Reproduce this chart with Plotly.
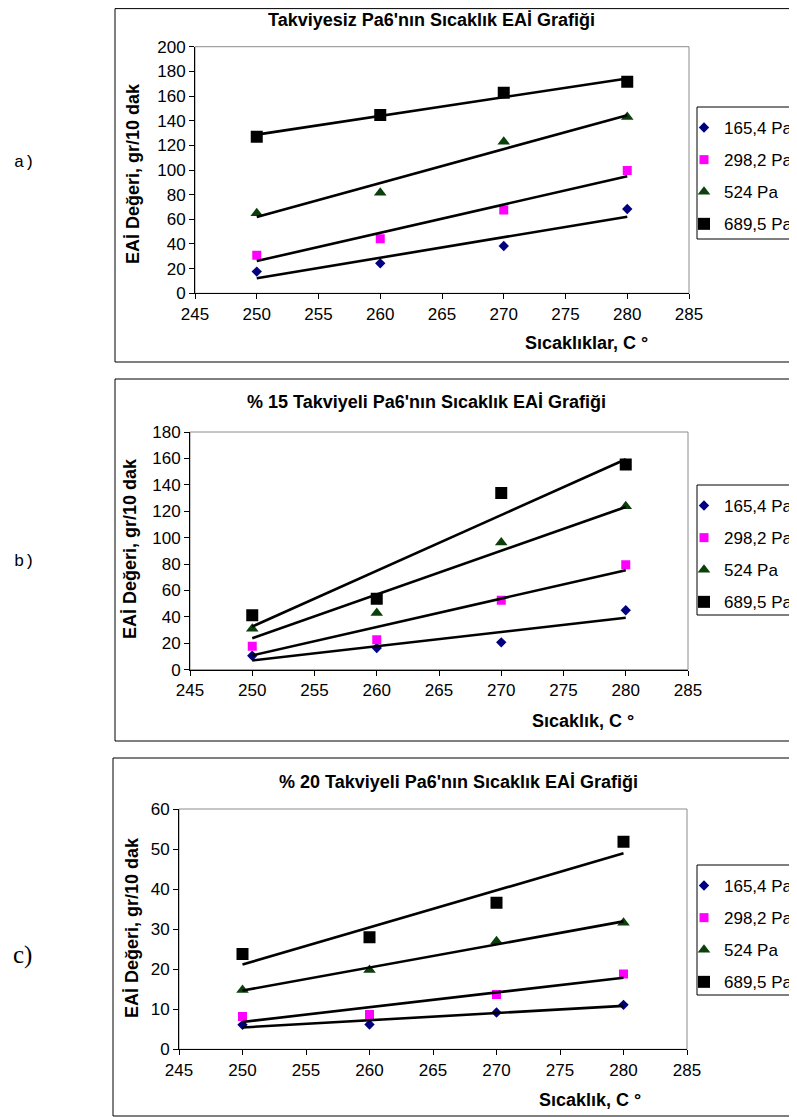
import numpy as np
import plotly.graph_objects as go

# The page body has an 8px default margin, so the figure is sized to fill the
# remaining part of the 797x1117 window and positions are given in window pixels.
WIN_W, WIN_H = 797, 1117
OFF = 8
W, H = WIN_W - OFF, WIN_H - OFF

# ---------------- data ----------------
temps = [250, 260, 270, 280]
series_names = ["165,4 Pa", "298,2 Pa", "524 Pa", "689,5 Pa"]

a_165 = [17.6, 24.3, 38.4, 68.4]
a_298 = [30.8, 44.3, 67.6, 99.5]
a_524 = [65.0, 81.6, 123.0, 143.0]
a_689 = [127.0, 144.6, 162.7, 171.6]

b_165 = [10.6, 16.4, 20.7, 45.0]
b_298 = [17.7, 22.7, 52.5, 79.5]
b_524 = [31.0, 43.0, 96.4, 123.7]
b_689 = [41.2, 53.8, 133.8, 155.3]

c_165 = [6.1, 6.2, 9.2, 11.1]
c_298 = [8.2, 8.7, 13.7, 18.8]
c_524 = [14.8, 19.8, 27.0, 31.6]
c_689 = [23.8, 28.0, 36.6, 51.8]

titles = ["Takviyesiz Pa6'nın Sıcaklık EAİ Grafiği",
          "% 15 Takviyeli Pa6'nın Sıcaklık EAİ Grafiği",
          "% 20 Takviyeli Pa6'nın Sıcaklık EAİ Grafiği"]
x_titles = ["Sıcaklıklar, C °", "Sıcaklık, C °", "Sıcaklık, C °"]
y_title = "EAİ Değeri, gr/10 dak"
panel_labels = ["a)", "b)", "c)"]
y_ranges = [[0, 200], [0, 180], [0, 60]]
y_dticks = [20, 20, 10]
x_range = [245, 285]

panels = [[a_165, a_298, a_524, a_689],
          [b_165, b_298, b_524, b_689],
          [c_165, c_298, c_524, c_689]]

# ---------------- styles ----------------
FONT = "Liberation Sans, Arial, sans-serif"
marker_styles = [
    dict(symbol="diamond", color="#000080", size=8),
    dict(symbol="square", color="#FF00FF", size=9),
    dict(symbol="triangle-up", color="#0B400B", size=11),
    dict(symbol="square", color="#000000", size=12),
]

# window-pixel geometry (left, right, top(ymax), bottom(y=0))
plot_px = [(195, 689, 46.7, 293.3),
           (190, 688, 432.0, 669.7),
           (179, 687, 809.0, 1049.3)]
box_px = [(115, 8.6, 830, 362), (115, 379, 830, 741), (113, 758, 830, 1116)]
legend_box_px = [(697, 107, 830, 239), (697, 485, 830, 615), (697, 865, 830, 995)]
title_px = [(431, 20), (427, 402), (458, 782)]
xtitle_px = [(586, 343), (583, 721), (590, 1100)]
ytitle_px = [(133, 174), (130, 549), (132, 928)]
label_px = [(24, 163, "Liberation Mono, Courier New, monospace", 17),
            (24, 561, "Liberation Mono, Courier New, monospace", 17),
            (22, 955, "Liberation Serif, Times New Roman, serif", 25)]


def px(x):
    return (x - OFF) / W


def py(y):
    return 1 - (y - OFF) / H


fig = go.Figure()
layout = dict(width=W, height=H, margin=dict(l=0, r=0, t=0, b=0, autoexpand=False),
              paper_bgcolor="white", plot_bgcolor="white",
              font=dict(family=FONT, color="black"))
shapes = []
annotations = []

for i, data in enumerate(panels):
    k = "" if i == 0 else str(i + 1)
    xa, ya = "x" + k, "y" + k
    leg = "legend" + k
    L, R, T, B = plot_px[i]
    layout["xaxis" + k] = dict(domain=[px(L), px(R)], anchor=ya, range=x_range, dtick=5,
                              tick0=245, showline=True, linecolor="black", linewidth=1,
                              ticks="outside", ticklen=5, tickcolor="black",
                              showgrid=False, zeroline=False,
                              tickfont=dict(size=17, family=FONT, color="black"))
    layout["yaxis" + k] = dict(domain=[py(B), py(T)], anchor=xa, range=y_ranges[i],
                              dtick=y_dticks[i], showline=True, linecolor="black", linewidth=1,
                              ticks="outside", ticklen=5, tickcolor="black",
                              showgrid=False, zeroline=False,
                              tickfont=dict(size=17, family=FONT, color="black"))
    # panel outer box
    bx0, by0, bx1, by1 = box_px[i]
    shapes.append(dict(type="rect", xref="paper", yref="paper", x0=px(bx0), x1=px(bx1),
                       y0=py(by1), y1=py(by0), line=dict(color="black", width=1),
                       fillcolor="rgba(0,0,0,0)", layer="below"))
    # gray plot area frame
    shapes.append(dict(type="rect", xref=xa + " domain", yref=ya + " domain", x0=0, x1=1,
                       y0=0, y1=1, line=dict(color="#8C8C8C", width=1), layer="below"))
    # legend box
    lx0, ly0, lx1, ly1 = legend_box_px[i]
    shapes.append(dict(type="rect", xref="paper", yref="paper", x0=px(lx0), x1=px(lx1),
                       y0=py(ly1), y1=py(ly0), line=dict(color="black", width=1),
                       fillcolor="white", layer="below"))
    layout[leg] = dict(x=px(lx0 - 13), xanchor="left", y=py(ly0 + 3), yanchor="top",
                       bgcolor="rgba(0,0,0,0)", borderwidth=0, tracegroupgap=7,
                       font=dict(size=17, family=FONT, color="black"))

    for j, vals in enumerate(data):
        ms = marker_styles[j]
        fig.add_trace(go.Scatter(x=temps, y=vals, mode="markers", name=series_names[j],
                                 marker=dict(symbol=ms["symbol"], color=ms["color"], size=ms["size"],
                                             line=dict(width=0)),
                                 xaxis=xa, yaxis=ya, legend=leg, legendgroup=f"{i}_{j}"))
    for j, vals in enumerate(data):
        m, c = np.polyfit(temps, vals, 1)
        xt = [temps[0], temps[-1]]
        yt = [m * xt[0] + c, m * xt[1] + c]
        fig.add_trace(go.Scatter(x=xt, y=yt, mode="lines", line=dict(color="black", width=2.6),
                                 showlegend=False, hoverinfo="skip", xaxis=xa, yaxis=ya))

    tx, ty = title_px[i]
    annotations.append(dict(text=titles[i], x=px(tx), y=py(ty), xref="paper", yref="paper",
                            showarrow=False, xanchor="center", yanchor="middle",
                            font=dict(size=18, family=FONT, color="black", weight="bold")))
    tx, ty = xtitle_px[i]
    annotations.append(dict(text=x_titles[i], x=px(tx), y=py(ty), xref="paper", yref="paper",
                            showarrow=False, xanchor="center", yanchor="middle",
                            font=dict(size=18, family=FONT, color="black", weight="bold")))
    tx, ty = ytitle_px[i]
    annotations.append(dict(text=y_title, x=px(tx), y=py(ty), xref="paper", yref="paper",
                            showarrow=False, xanchor="center", yanchor="middle", textangle=-90,
                            font=dict(size=18, family=FONT, color="black", weight="bold")))
    lx, ly, lf, ls = label_px[i]
    annotations.append(dict(text=panel_labels[i], x=px(lx), y=py(ly), xref="paper", yref="paper",
                            showarrow=False, xanchor="center", yanchor="middle",
                            font=dict(size=ls, family=lf, color="black")))

layout["shapes"] = shapes
layout["annotations"] = annotations
fig.update_layout(**layout)
fig.write_html("out.html")
